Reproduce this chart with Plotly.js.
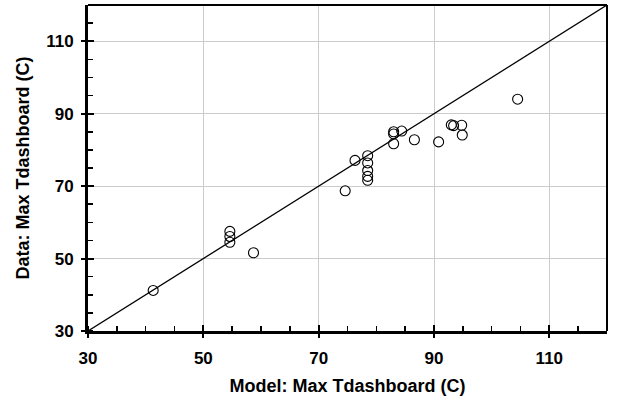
<!DOCTYPE html>
<html>
<head>
<meta charset="utf-8">
<script src="https://cdn.plot.ly/plotly-3.0.1.min.js"></script>
<style>html,body{margin:0;padding:0;background:#fff;}#chart{width:618px;height:405px;}</style>
</head>
<body>
<div id="chart"></div>
<script>
// Model vs data maximum dashboard temperature (C)
const modelT = [41.3, 54.6, 54.6, 54.6, 58.7, 74.6, 76.3, 78.5, 78.5, 78.5, 78.5, 78.5, 83.0, 83.0, 83.0, 84.4, 86.6, 90.8, 93.0, 93.4, 94.8, 94.9, 104.5];
const dataT  = [41.2, 57.5, 56.1, 54.5, 51.6, 68.7, 77.1, 78.4, 76.4, 74.3, 72.7, 71.6, 85.0, 84.4, 81.7, 85.2, 82.8, 82.2, 86.9, 86.7, 86.8, 84.1, 94.0];
const lineX = [30, 120];
const lineY = [30, 120];
const tickVals = [30, 50, 70, 90, 110];
const tickText = ['30', '50', '70', '90', '110'];

const font = 'Liberation Sans, Arial, sans-serif';

const traces = [
  {x: lineX, y: lineY, mode: 'lines', line: {color: '#000', width: 1.3}, hoverinfo: 'skip', showlegend: false},
  {x: modelT, y: dataT, mode: 'markers', showlegend: false,
   marker: {symbol: 'circle-open', size: 10, color: '#000', line: {width: 1.1, color: '#000'}}},
  {x: lineX, y: lineY, xaxis: 'x2', yaxis: 'y2', mode: 'markers', marker: {opacity: 0}, hoverinfo: 'skip', showlegend: false}
];

function makeAxis(extra) {
  return Object.assign({
    range: [30, 120], tickmode: 'array', tickvals: tickVals,
    ticktext: tickText,
    showgrid: true, gridcolor: '#cccccc', gridwidth: 1, zeroline: false,
    showline: true, linecolor: '#000', linewidth: 3,
    ticks: 'outside', ticklen: 4, tickwidth: 2, tickcolor: '#000',
    tickfont: {family: font, size: 17, color: '#000', weight: 'bold'},
    minor: {ticks: 'inside', dtick: 5, tick0: 30, ticklen: 5, tickwidth: 1.5, tickcolor: '#000', showgrid: false}
  }, extra);
}

const layout = {
  width: 618, height: 405,
  font: {family: font, size: 17, color: '#000', weight: 'bold'},
  margin: {l: 88, r: 11, t: 5, b: 74},
  paper_bgcolor: '#fff', plot_bgcolor: '#fff',
  xaxis: makeAxis({
    ticklabelstandoff: 6,
    title: {text: 'Model: Max Tdashboard (C)', font: {family: font, size: 18, color: '#000', weight: 'bold'}, standoff: 12}
  }),
  yaxis: makeAxis({
    ticklabelstandoff: 4,
    title: {text: 'Data: Max Tdashboard (C)', font: {family: font, size: 18, color: '#000', weight: 'bold'}, standoff: 12}
  }),
  xaxis2: {overlaying: 'x', range: [30, 120], side: 'bottom', showgrid: false, zeroline: false, showline: false,
    tickmode: 'array', tickvals: tickVals, ticks: 'inside', ticklen: 6, tickwidth: 2, tickcolor: '#000', showticklabels: false},
  yaxis2: {overlaying: 'y', range: [30, 120], side: 'left', showgrid: false, zeroline: false, showline: false,
    tickmode: 'array', tickvals: tickVals, ticks: 'inside', ticklen: 6, tickwidth: 2, tickcolor: '#000', showticklabels: false},
  shapes: [
    {type: 'line', xref: 'paper', yref: 'paper', x0: 0, x1: 1, y0: 1, y1: 1, line: {color: '#000', width: 2}},
    {type: 'line', xref: 'paper', yref: 'paper', x0: 1, x1: 1, y0: 0, y1: 1, line: {color: '#000', width: 2}}
  ]
};

Plotly.newPlot('chart', traces, layout, {displayModeBar: false, staticPlot: true});
</script>
</body>
</html>
